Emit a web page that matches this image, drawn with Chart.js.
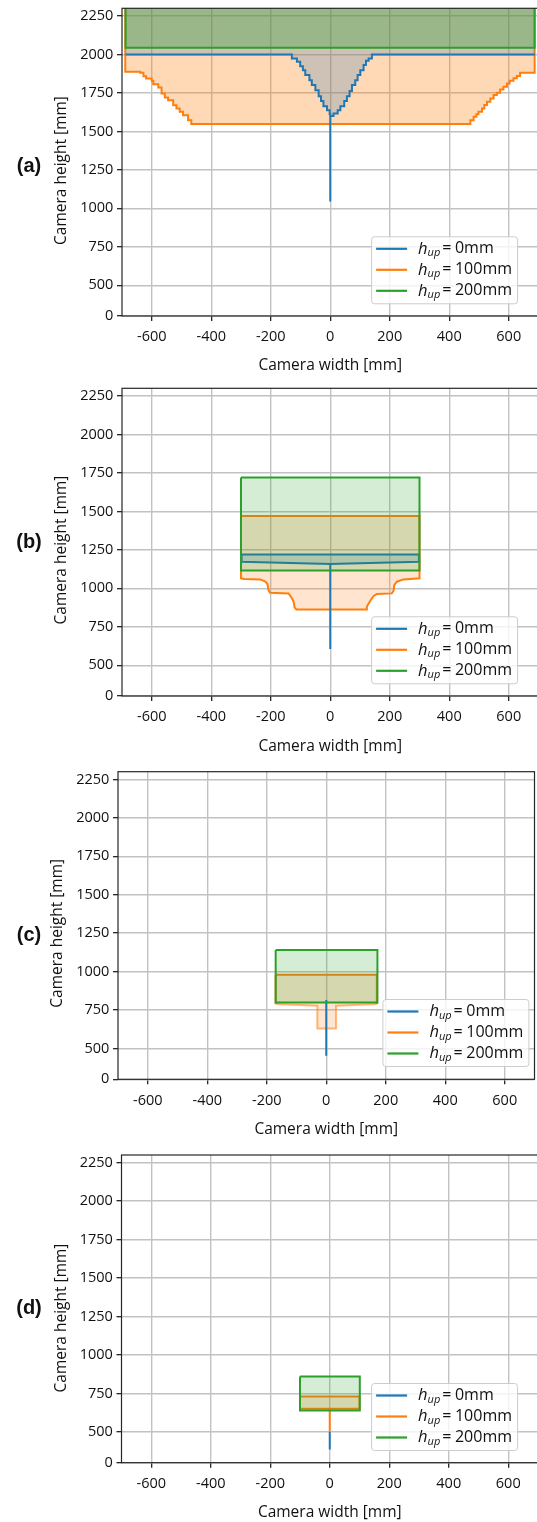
<!DOCTYPE html>
<html>
<head>
<meta charset="utf-8">
<script src="https://cdn.jsdelivr.net/npm/chart.js@4.4.1/dist/chart.umd.min.js"></script>
<style>
  html, body { margin: 0; padding: 0; background: #fff; }
  #page { position: relative; width: 537px; height: 1522px; overflow: hidden; }
  .panel { position: absolute; left: 0; width: 537px; overflow: hidden; }
  .panel canvas { display: block; }
</style>
</head>
<body>
<div id="page">
  <div class="panel" style="top:0;height:380px"><canvas id="chartA" width="545" height="380"></canvas></div>
  <div class="panel" style="top:380px;height:380px"><canvas id="chartB" width="545" height="380"></canvas></div>
  <div class="panel" style="top:760px;height:380px"><canvas id="chartC" width="545" height="380"></canvas></div>
  <div class="panel" style="top:1140px;height:382px"><canvas id="chartD" width="545" height="382"></canvas></div>
</div>
<script>
// ── Ticks (mm) ──
const xTickValues = [-600, -400, -200, 0, 200, 400, 600];
const yTickValues = [300, 500, 750, 1000, 1250, 1500, 1750, 2000, 2250];
const yTickLabels = ['0', '500', '750', '1000', '1250', '1500', '1750', '2000', '2250'];
const hupLabels   = ['0mm', '100mm', '200mm'];

// ── (a) ── regions run past the top of the axes
const aOrangeX = [-689, -689, -639, -628, -619, -600, -595, -578, -567, -556, -545, -528, -517, -506, -495, -478, -467,
                  462, 471, 482, 491, 498, 510, 518, 527, 538, 549, 560, 571, 582, 594, 603, 616, 627, 638, 687, 687];
const aOrangeY = [2600, 1887, 1881, 1859, 1844, 1828, 1807, 1785, 1746, 1720, 1703, 1670, 1649, 1627, 1605, 1573, 1548,
                  1548, 1573, 1595, 1612, 1627, 1649, 1671, 1692, 1714, 1736, 1751, 1773, 1790, 1812, 1829, 1845, 1860, 1881, 1887, 2600];
const aBlueX = [-688, -140, -129, -112, -101, -92, -84, -70, -62, -50, -39, -31, -23, -11, -2, 0, 0, 0,
                11, 25, 34, 47, 56, 65, 73, 84, 92, 101, 112, 120, 129, 140, 688];
const aBlueY = [2000, 2000, 1974, 1952, 1924, 1898, 1866, 1833, 1801, 1768, 1729, 1697, 1664, 1638, 1612, 1600, 1045, 1600,
                1617, 1638, 1664, 1697, 1729, 1762, 1801, 1833, 1866, 1898, 1931, 1959, 1974, 2000, 2000];
const aBlueTop = 2600;
const aGreenX = [-688, -688, 687, 687, -688];
const aGreenY = [2600, 2043, 2043, 2600, 2600];

// ── (b) ──
const bOrangeX = [-300, -300, -291, -235, -218, -211, -207, -202, -140, -134, -129, -123, -120, -114,
                  121, 123, 129, 140, 146, 157, 207, 213, 215, 224, 246, 300, 300, -300];
const bOrangeY = [1470, 1065, 1060, 1058, 1043, 1028, 984, 971, 967, 950, 935, 913, 876, 863,
                  863, 880, 902, 935, 950, 963, 967, 984, 1021, 1043, 1058, 1065, 1470, 1470];
const bBlueX = [-298, -298, 0, 0, 0, 298, 298, -298];
const bBlueY = [1220, 1173, 1158, 605, 1158, 1173, 1220, 1220];
const bGreenX = [-300, -300, 300, 300, -300];
const bGreenY = [1720, 1115, 1115, 1720, 1720];

// ── (c) ──
const cOrangeX = [-170, -170, -30, -30, 33, 33, 170, 170, -170];
const cOrangeY = [980, 789, 778, 631, 631, 778, 789, 980, 980];
const cBlueX = [0, 0];
const cBlueY = [815, 453];
const cGreenX = [-170, -170, 172, 172, -170];
const cGreenY = [1140, 800, 800, 1140, 1140];

// ── (d) ──
const dOrangeX = [-100, -100, 0, 0, 0, 100, 100, -100];
const dOrangeY = [730, 650, 650, 500, 650, 650, 730, 730];
const dBlueX = [0, 0];
const dBlueY = [500, 385];
const dGreenX = [-100, -100, 101, 101, -100];
const dGreenY = [860, 640, 640, 860, 860];

// ── Style ──
const COLOR = { blue: '#1f77b4', orange: '#ff7f0e', green: '#2ca02c' };
const RGB   = { blue: [31, 119, 180], orange: [255, 127, 14], green: [44, 160, 44] };
const rgba  = (k, a) => `rgba(${RGB[k].join(',')},${a})`;
const FONT  = '"Open Sans", "DejaVu Sans", sans-serif';
const INK   = '#111111';
const GRID  = '#c2c2c2';
// orange underneath, then blue, green on top
const ORDER = { orange: 5, blue: 3, green: 1 };
const LEGEND_KEYS = ['blue', 'orange', 'green'];

const panels = [
  {
    canvas: 'chartA', tag: '(a)', tagY: 166.7,
    area: { left: 122, top: 8.3, right: 538.5, bottom: 316 },
    yTitle: { x: 61.6, y: 170.5 }, xTitleY: 365.5,
    legend: { right: 517.1, bottom: 303.3 },
    alpha: { orange: 0.3, blue: 0.22, green: 0.32 },
    series: [
      { color: 'orange', x: aOrangeX, y: aOrangeY, stepped: true },
      { color: 'blue',   x: aBlueX,   y: aBlueY,   stepped: true, top: aBlueTop },
      { color: 'green',  x: aGreenX,  y: aGreenY }
    ]
  },
  {
    canvas: 'chartB', tag: '(b)', tagY: 162.3,
    area: { left: 122, top: 8.3, right: 538.5, bottom: 316 },
    yTitle: { x: 61.6, y: 170 }, xTitleY: 367,
    legend: { right: 517.1, bottom: 303.3 },
    alpha: { orange: 0.2, blue: 0.2, green: 0.2 },
    series: [
      { color: 'orange', x: bOrangeX, y: bOrangeY },
      { color: 'blue',   x: bBlueX,   y: bBlueY },
      { color: 'green',  x: bGreenX,  y: bGreenY }
    ]
  },
  {
    canvas: 'chartC', tag: '(c)', tagY: 175,
    area: { left: 118, top: 11.7, right: 534.5, bottom: 319.3 },
    yTitle: { x: 58, y: 173.3 }, xTitleY: 369.5,
    legend: { right: 528.4, bottom: 306 },
    alpha: { orange: 0.2, blue: 0.2, green: 0.2 },
    series: [
      { color: 'orange', x: cOrangeX, y: cOrangeY, faintBelow: 979 },
      { color: 'blue',   x: cBlueX,   y: cBlueY, fill: false },
      { color: 'green',  x: cGreenX,  y: cGreenY }
    ]
  },
  {
    canvas: 'chartD', tag: '(d)', tagY: 168.3,
    area: { left: 121.5, top: 15, right: 538, bottom: 322.7 },
    yTitle: { x: 61.6, y: 178 }, xTitleY: 372.5,
    legend: { right: 517.1, bottom: 310 },
    alpha: { orange: 0.2, blue: 0.2, green: 0.2 },
    series: [
      { color: 'orange', x: dOrangeX, y: dOrangeY },
      { color: 'blue',   x: dBlueX,   y: dBlueY, fill: false },
      { color: 'green',  x: dGreenX,  y: dGreenY }
    ]
  }
];

function buildDatasets(p) {
  const out = [];
  p.series.forEach(s => {
    const pts = s.x.map((x, i) => ({ x, y: s.y[i] }));
    if (s.fill !== false) {
      // closed region, topped off above the axes when the edge is open
      const shape = s.top != null
        ? pts.concat([{ x: s.x[s.x.length - 1], y: s.top }, { x: s.x[0], y: s.top }])
        : pts;
      out.push({
        data: shape, showLine: true, fill: 'shape', stepped: !!s.stepped,
        backgroundColor: rgba(s.color, p.alpha[s.color]),
        borderColor: 'transparent', borderWidth: 0,
        pointRadius: 0, pointHoverRadius: 0, order: ORDER[s.color] + 1
      });
    }
    const edge = {
      data: pts, showLine: true, fill: false, stepped: !!s.stepped,
      borderColor: COLOR[s.color], borderWidth: 2,
      borderJoinStyle: 'miter', borderCapStyle: 'butt',
      pointRadius: 0, pointHoverRadius: 0, order: ORDER[s.color]
    };
    if (s.faintBelow != null) {
      // lower outline drawn lighter than the top line
      edge.segment = {
        borderColor: c => (c.p0.parsed.y < s.faintBelow && c.p1.parsed.y < s.faintBelow)
          ? rgba(s.color, 0.55) : undefined
      };
    }
    out.push(edge);
  });
  return out;
}

function roundRect(ctx, x, y, w, h, r) {
  ctx.beginPath();
  ctx.moveTo(x + r, y);
  ctx.lineTo(x + w - r, y);
  ctx.arcTo(x + w, y, x + w, y + r, r);
  ctx.lineTo(x + w, y + h - r);
  ctx.arcTo(x + w, y + h, x + w - r, y + h, r);
  ctx.lineTo(x + r, y + h);
  ctx.arcTo(x, y + h, x, y + h - r, r);
  ctx.lineTo(x, y + r);
  ctx.arcTo(x, y, x + r, y, r);
  ctx.closePath();
}

// h_up = value, with italic h and subscript "up"
function drawHup(ctx, x, y, value) {
  ctx.textAlign = 'left';
  ctx.textBaseline = 'middle';
  ctx.fillStyle = INK;
  ctx.font = `italic 16.5px ${FONT}`;
  ctx.fillText('h', x, y);
  let cx = x + ctx.measureText('h').width;
  ctx.font = `italic 11px ${FONT}`;
  ctx.fillText('up', cx, y + 4);
  cx += ctx.measureText('up').width + 2;
  ctx.font = `16px ${FONT}`;
  ctx.fillText('=', cx, y);
  cx += ctx.measureText('=').width + 3.5;
  ctx.fillText(value, cx, y);
}

const decor = {
  id: 'decor',
  afterDraw(chart, args, o) {
    const { ctx, chartArea: a } = chart;
    ctx.save();
    // axes frame
    ctx.strokeStyle = '#262626';
    ctx.lineWidth = 1.2;
    ctx.strokeRect(a.left, a.top, a.right - a.left, a.bottom - a.top);

    // y title
    ctx.save();
    ctx.translate(o.yTitle.x, o.yTitle.y);
    ctx.rotate(-Math.PI / 2);
    ctx.fillStyle = INK;
    ctx.font = `15.5px ${FONT}`;
    ctx.textAlign = 'center';
    ctx.textBaseline = 'middle';
    ctx.fillText('Camera height [mm]', 0, 0);
    ctx.restore();

    // panel tag
    ctx.fillStyle = '#111';
    ctx.font = 'bold 20px "Liberation Sans", Arial, sans-serif';
    ctx.textAlign = 'center';
    ctx.textBaseline = 'middle';
    ctx.fillText(o.tag, 29, o.tagY);

    // legend
    const w = 146, h = 67;
    const x0 = o.legend.right - w, y0 = o.legend.bottom - h;
    roundRect(ctx, x0 + 0.5, y0 + 0.5, w, h, 3);
    ctx.fillStyle = 'rgba(255,255,255,0.8)';
    ctx.fill();
    ctx.strokeStyle = '#cccccc';
    ctx.lineWidth = 1;
    ctx.stroke();
    LEGEND_KEYS.forEach((k, i) => {
      const y = y0 + 12.5 + i * 21;
      ctx.strokeStyle = COLOR[k];
      ctx.lineWidth = 2.2;
      ctx.beginPath();
      ctx.moveTo(x0 + 5, y);
      ctx.lineTo(x0 + 36, y);
      ctx.stroke();
      drawHup(ctx, x0 + 47, y, hupLabels[i]);
    });
    ctx.restore();
  }
};

panels.forEach(p => {
  const canvas = document.getElementById(p.canvas);
  const W = canvas.width, H = canvas.height;
  const tickFont = { family: FONT, size: 14.5 };
  const grid = { color: GRID, lineWidth: 1.4, tickColor: INK, tickLength: 5, tickWidth: 1.2 };
  new Chart(canvas, {
    type: 'scatter',
    data: { datasets: buildDatasets(p) },
    options: {
      responsive: false, maintainAspectRatio: false, devicePixelRatio: 1,
      animation: false, events: [],
      layout: { padding: { left: 0, top: p.area.top, right: W - p.area.right, bottom: 0 } },
      plugins: {
        legend: { display: false },
        tooltip: { enabled: false },
        decor: { tag: p.tag, tagY: p.tagY, yTitle: p.yTitle, legend: p.legend }
      },
      scales: {
        x: {
          type: 'linear', min: -700, max: 700,
          afterBuildTicks: ax => { ax.ticks = xTickValues.map(value => ({ value })); },
          afterFit: ax => { ax.height = H - p.area.bottom; ax.paddingLeft = 0; ax.paddingRight = 0; },
          ticks: { font: tickFont, color: INK, padding: 7.5, maxRotation: 0, autoSkip: false, callback: v => String(v) },
          grid: grid,
          border: { display: false },
          title: {
            display: true, text: 'Camera width [mm]', color: INK,
            font: { family: FONT, size: 15.5 },
            padding: { top: 0, bottom: H - p.xTitleY - 9.3 }
          }
        },
        y: {
          type: 'linear', min: 300, max: 2300,
          afterBuildTicks: ax => { ax.ticks = yTickValues.map(value => ({ value })); },
          afterFit: ax => { ax.width = p.area.left; ax.paddingTop = 0; ax.paddingBottom = 0; },
          ticks: { font: tickFont, color: INK, padding: 3.7, autoSkip: false, callback: (v, i) => yTickLabels[i] },
          grid: grid,
          border: { display: false }
        }
      }
    },
    plugins: [decor]
  });
});
</script>
</body>
</html>
